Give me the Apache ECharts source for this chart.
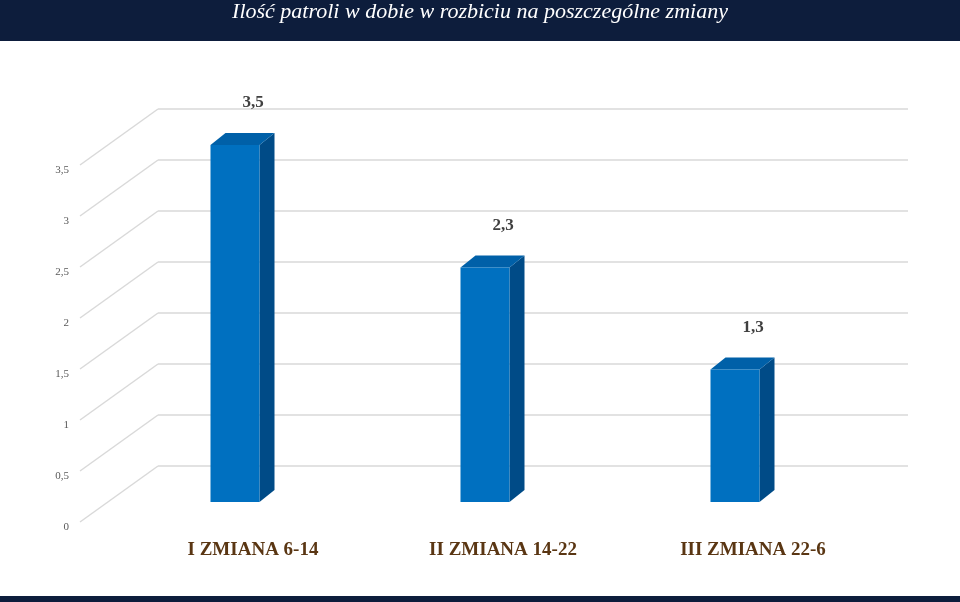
<!DOCTYPE html>
<html><head><meta charset="utf-8">
<script src="https://cdn.jsdelivr.net/npm/echarts@6/dist/echarts.min.js"></script>
<style>html,body{margin:0;padding:0;background:#fff}#c{width:960px;height:602px}</style>
</head><body><div id="c"></div>
<script>
const categories = ['I ZMIANA 6-14', 'II ZMIANA 14-22', 'III ZMIANA 22-6'];
const values = [3.5, 2.3, 1.3];
const valueLabels = ['3,5', '2,3', '1,3'];
const ticks = [0, 0.5, 1, 1.5, 2, 2.5, 3, 3.5];
const tickLabels = ['0', '0,5', '1', '1,5', '2', '2,5', '3', '3,5'];

const chart = echarts.init(document.getElementById('c'));
const DX = -48, DY = 36, BW = 49, DEP = 15, DEPY = 12;
chart.setOption({
  backgroundColor: '#fff',
  animation: false,
  graphic: [
    {type:'rect', shape:{x:0,y:0,width:960,height:41}, style:{fill:'#0d1d3c'}},
    {type:'rect', shape:{x:0,y:596,width:960,height:6}, style:{fill:'#0d1d3c'}},
    {type:'text', x:480, y:12, style:{text:'Ilość patroli w dobie w rozbiciu na poszczególne zmiany', fill:'#fff', font:'italic 22px "Liberation Serif"', align:'center', verticalAlign:'middle'}}
  ],
  grid: {left:158, right:52, top:109, bottom:136},
  xAxis: {type:'category', data:categories, axisLine:{show:false}, axisTick:{show:false},
    axisLabel:{margin:75, padding:[0,60,0,0], color:'#5a3613', fontFamily:'Liberation Serif', fontWeight:'bold', fontSize:19}},
  yAxis: {type:'value', min:0, max:3.5, interval:0.5, axisLabel:{show:false}, axisLine:{show:false},
    splitLine:{lineStyle:{color:'#d9d9d9', width:1.5}}},
  series: [
    {type:'custom', data:ticks.map((t,i)=>[t,i]), renderItem:(p,api)=>{
      const v = api.value(0), i = api.value(1);
      const b = api.coord([0, v]);
      const x0 = 158;
      return {type:'group', children:[
        {type:'line', shape:{x1:x0,y1:b[1],x2:x0-78,y2:b[1]+56}, style:{stroke:'#d9d9d9', lineWidth:1.5}},
        {type:'text', style:{text:tickLabels[i], x:69, y:b[1]+61, align:'right', verticalAlign:'middle', fill:'#595959', font:'11px "Liberation Serif"'}}
      ]};
    }, encode:{x:-1,y:0}, silent:true, z:1},
    {type:'custom', data:values.map((v,i)=>[i,v]), renderItem:(p,api)=>{
      const i = api.value(0), v = api.value(1);
      const top = api.coord([i, v]), bot = api.coord([i, 0]);
      const cx = top[0] + DX, yt = top[1] + DY, yb = bot[1] + DY;
      const xl = cx - BW/2, xr = cx + BW/2;
      return {type:'group', children:[
        {type:'polygon', shape:{points:[[xr,yt],[xr+DEP,yt-DEPY],[xr+DEP,yb-DEPY],[xr,yb]]}, style:{fill:'#004b87'}},
        {type:'polygon', shape:{points:[[xl,yt],[xl+DEP,yt-DEPY],[xr+DEP,yt-DEPY],[xr,yt]]}, style:{fill:'#0060a8'}},
        {type:'rect', shape:{x:xl,y:yt,width:BW,height:yb-yt}, style:{fill:'#0070c0'}},
        {type:'text', style:{text:valueLabels[i], x:cx+18, y:yt-42, align:'center', verticalAlign:'middle', fill:'#404040', font:'bold 17px "Liberation Serif"'}}
      ]};
    }, encode:{x:0,y:1}, z:3}
  ]
});
</script></body></html>
